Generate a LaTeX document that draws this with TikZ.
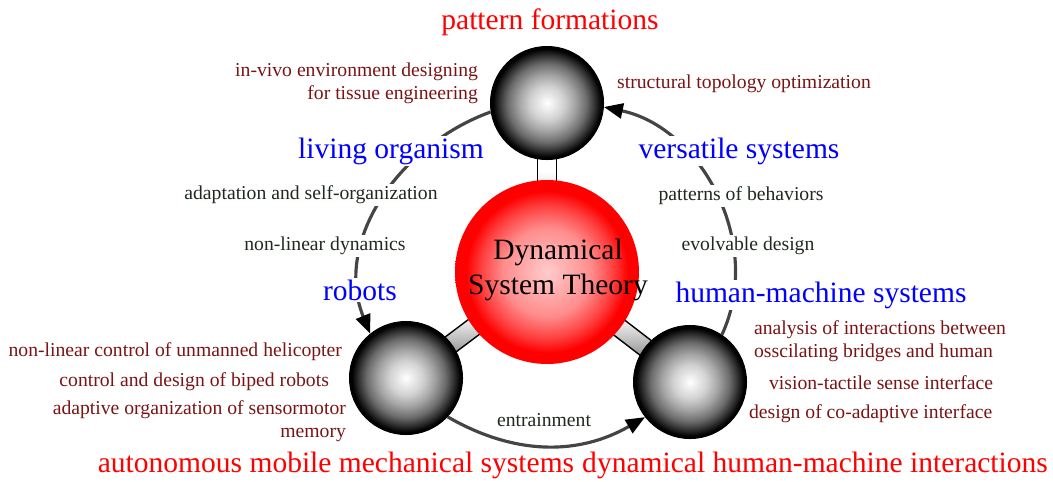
\documentclass[tikz,border=0pt]{standalone}
\usepackage{fontspec}
\setmainfont{Liberation Serif}
\usetikzlibrary{arrows.meta,backgrounds}

\definecolor{topicred}{RGB}{122,20,20}
\definecolor{linkgreen}{RGB}{30,42,30}
\definecolor{arcgray}{RGB}{68,68,68}

\pgfdeclareradialshading{blackball}{\pgfpoint{0bp}{0bp}}{color(0bp)=(white); color(7.5bp)=(black!18); color(12.5bp)=(black!36); color(17.5bp)=(black!58); color(21bp)=(black!80); color(24bp)=(black); color(50bp)=(black)}
\pgfdeclareradialshading{redball}{\pgfpoint{0bp}{0bp}}{color(0bp)=(red!20); color(12bp)=(red!45); color(18bp)=(red!75); color(22bp)=(red); color(50bp)=(red)}
\pgfdeclareverticalshading{rodshade}{100bp}{color(0bp)=(black!70); color(27bp)=(black!70); color(42bp)=(black!30); color(55bp)=(white); color(64bp)=(white); color(73bp)=(black!45); color(100bp)=(black!45)}

\tikzset{
  ball/.style={circle, shading=blackball, draw=black, line width=0.6pt, minimum size=2.26cm, inner sep=0pt},
  core/.style={circle, shading=redball, minimum size=3.68cm, inner sep=0pt},
  coretext/.style={align=center, inner sep=0pt, font=\fontsize{16.8}{20.4}\selectfont},
  rod/.style={sloped, draw=black, line width=0.8pt, shading=rodshade,
    minimum width=3.2cm, minimum height=0.37cm, inner sep=0pt},
  cyclearc/.style={arcgray, line width=1.8pt, -{Triangle[length=0.38cm,width=0.3cm,color=black]}},
  field/.style={text=red, inner sep=1pt, font=\fontsize{16.8}{19}\selectfont},
  system/.style={text=blue, fill=white, inner sep=1pt, font=\fontsize{16.8}{19}\selectfont},
  topic/.style={text=topicred, inner sep=1pt, font=\fontsize{11.2}{13}\selectfont},
  link/.style={text=linkgreen, fill=white, inner sep=1pt, font=\fontsize{11.2}{13}\selectfont}
}

\begin{document}
\begin{tikzpicture}[x=0.02cm, y=-0.02cm]
  \useasboundingbox (0,0) rectangle (1053,481);

  % the four spheres
  \node[core] (core) at (547,272) {};
  \node[ball] (formation) at (547,103) {};
  \node[ball] (mobile) at (406,378) {};
  \node[ball] (interact) at (690,382) {};
  \node[coretext] (theory) at (558,270) {Dynamical\\System Theory};

  % rods behind the spheres
  \begin{pgfonlayer}{background}
    \path (core.center) -- (formation.center) node[midway, rod] {};
    \path (core.center) -- (mobile.center) node[midway, rod] {};
    \path (core.center) -- (interact.center) node[midway, rod] {};
  \end{pgfonlayer}

  % the cycle
  \draw[cyclearc] (formation.189) to[out=200, in=112] (mobile.129);
  \draw[cyclearc] (mobile.-43) to[out=-30, in=210] (interact.218);
  \draw[cyclearc] (interact.56) to[out=65, in=-12] (formation.-4);

  % fields
  \node[field] (pattern) at (550,22) {pattern formations};
  \node[field] (autonomous) at (336,465) {autonomous mobile mechanical systems};
  \node[field] (dynhmi) at (815,465) {dynamical human-machine interactions};

  % systems on the arcs
  \node[system] (living) at (391,151) {living organism};
  \node[system] (versatile) at (739,151) {versatile systems};
  \node[system] (robots) at (360,290) {robots};
  \node[system] (humanmachine) at (821,295) {human-machine systems};

  % links
  \node[link] (adaptation) at (311,195) {adaptation and self-organization};
  \node[link] (nonlinear) at (325,246) {non-linear dynamics};
  \node[link] (behaviors) at (741,196) {patterns of behaviors};
  \node[link] (evolvable) at (748,246) {evolvable design};
  \node[link, fill=none] (entrain) at (544,420) {entrainment};

  % topics
  \node[topic, align=right, anchor=east] (invivo) at (480,83) {in-vivo environment designing\\for tissue engineering};
  \node[topic] (topology) at (744,84) {structural topology optimization};
  \node[topic, anchor=east] (helicopter) at (344,352) {non-linear control of unmanned helicopter};
  \node[topic, anchor=east] (biped) at (331,382) {control and design of biped robots};
  \node[topic, align=right, anchor=east] (sensormotor) at (348,421) {adaptive organization of sensormotor\\memory};
  \node[topic, align=left, anchor=west] (bridges) at (752,341) {analysis of interactions between\\osscilating bridges and human};
  \node[topic, anchor=west] (tactile) at (767,383) {vision-tactile sense interface};
  \node[topic, anchor=west] (coadaptive) at (747,414) {design of co-adaptive interface};
\end{tikzpicture}
\end{document}
